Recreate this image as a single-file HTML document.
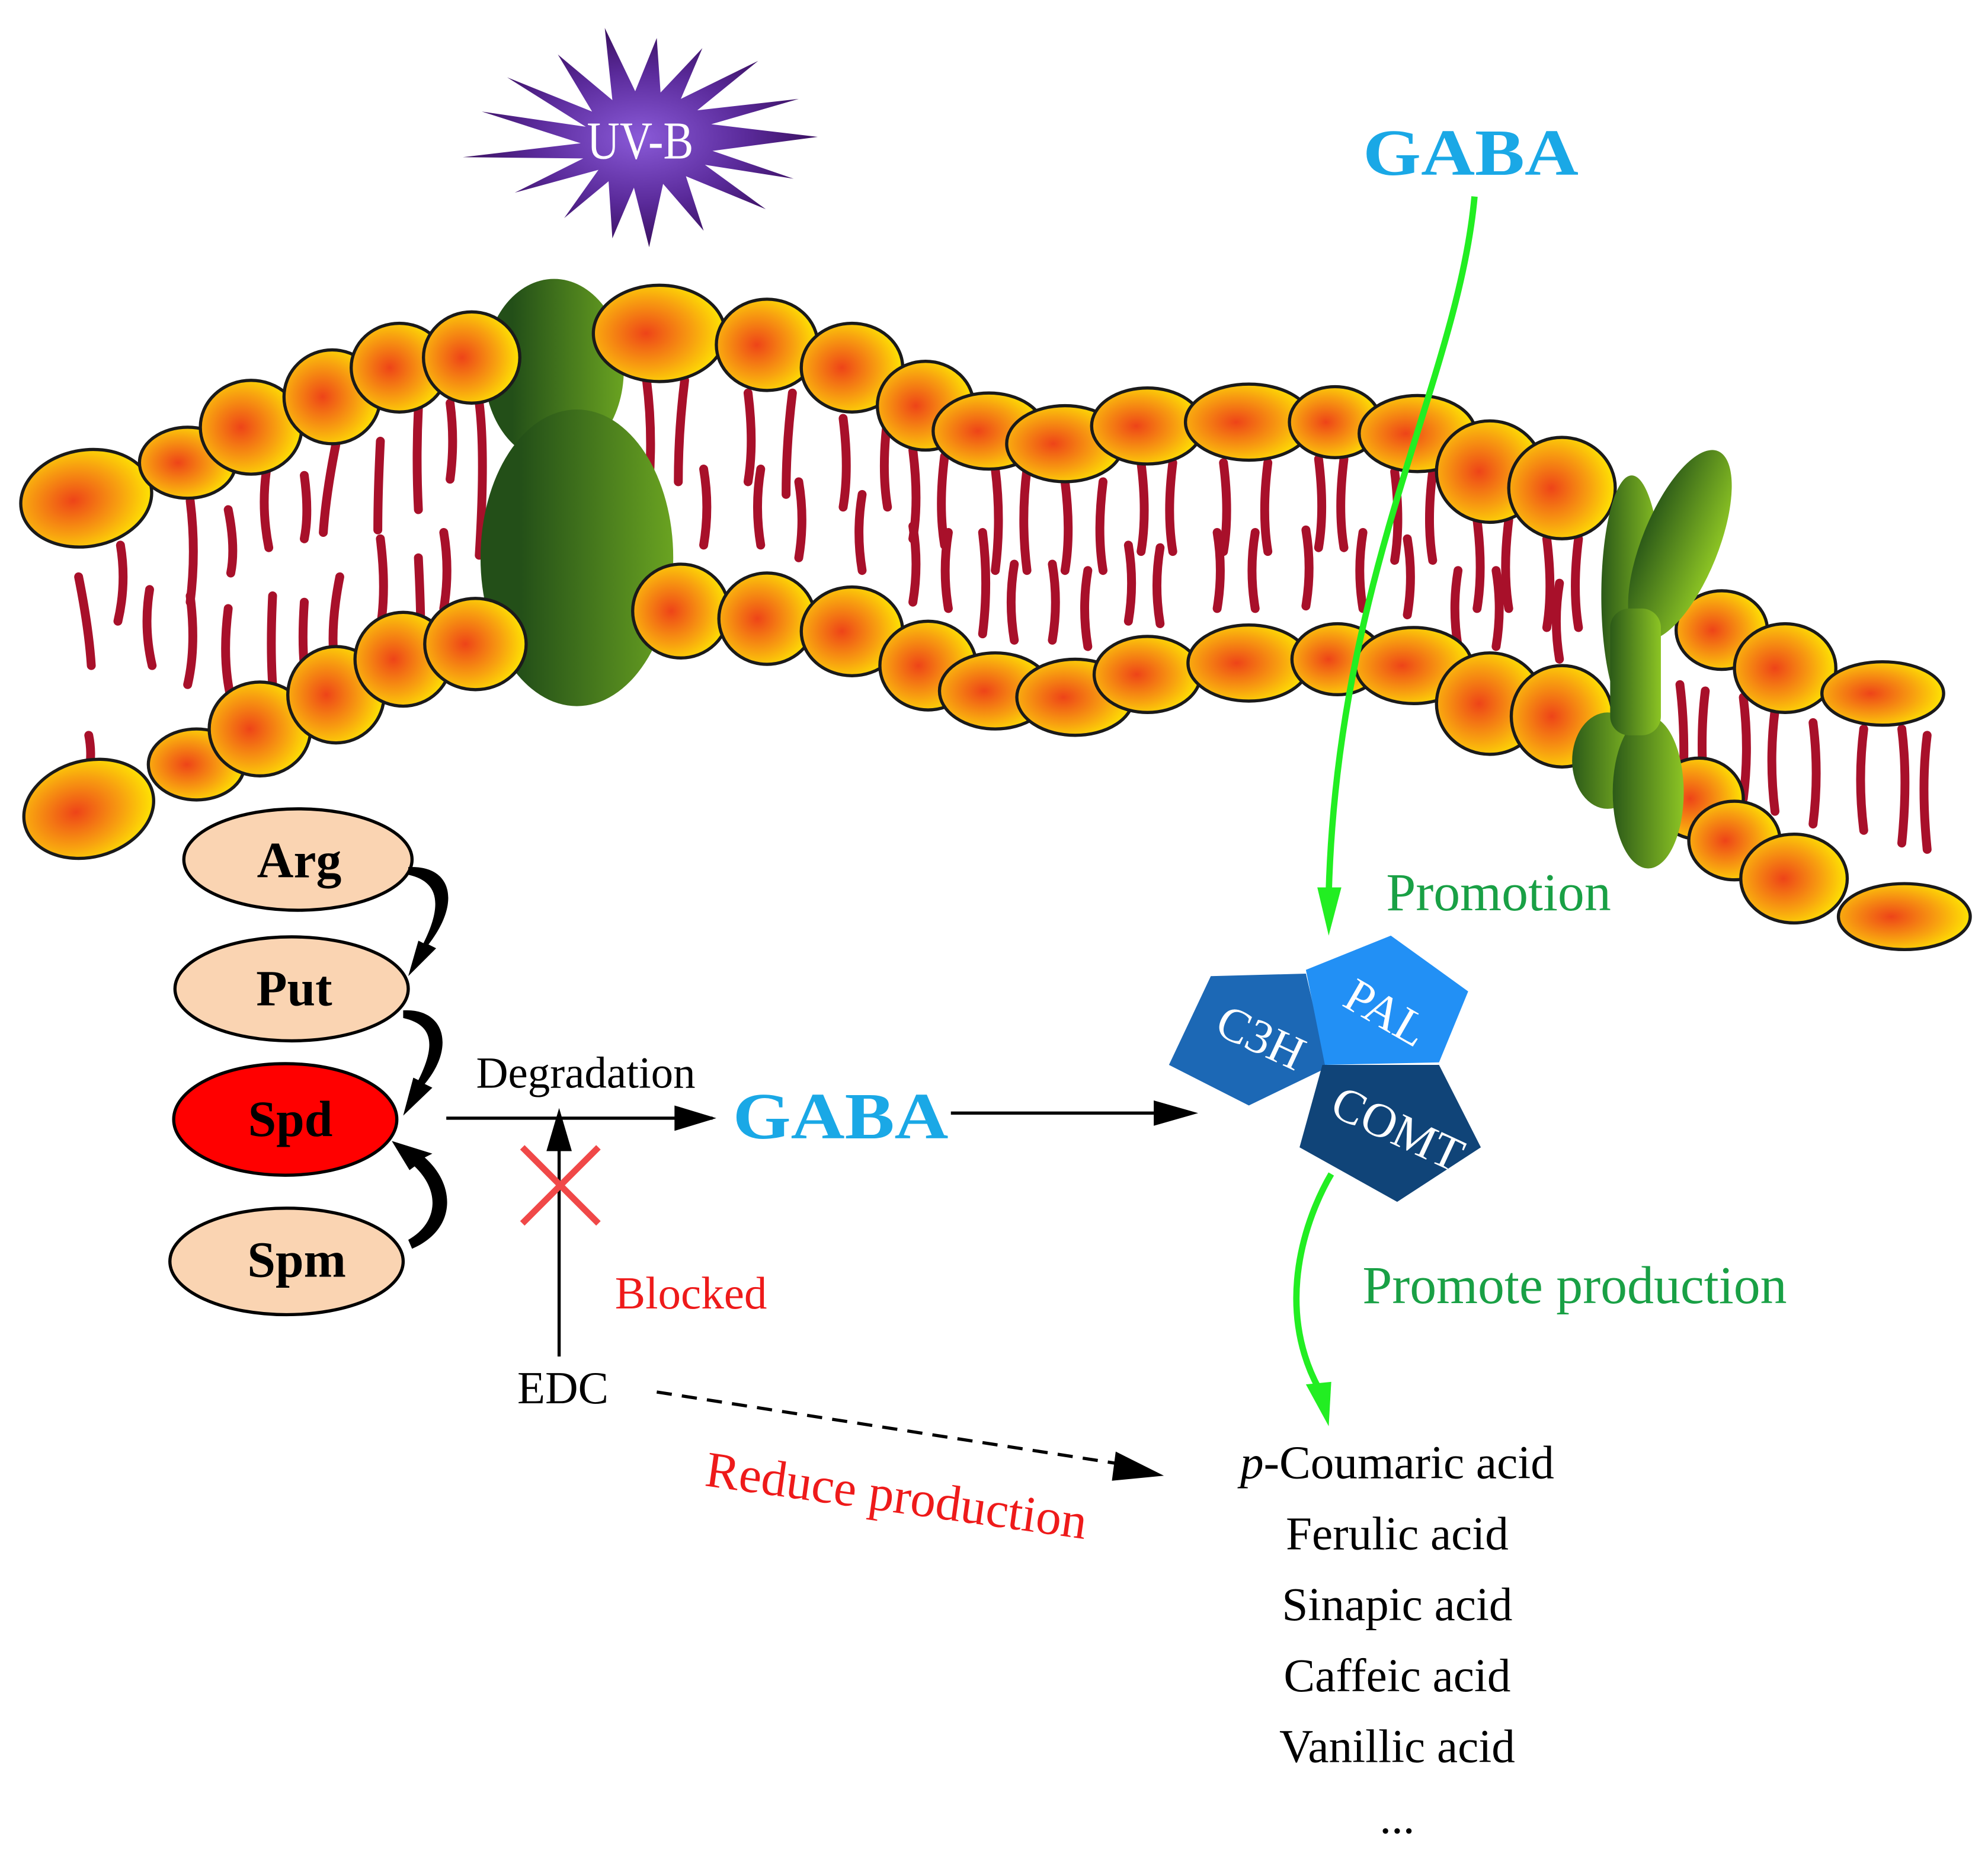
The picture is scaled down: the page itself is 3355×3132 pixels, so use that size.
<!DOCTYPE html>
<html><head><meta charset="utf-8"><style>html,body{margin:0;padding:0;background:#fff}svg{display:block}</style></head>
<body>
<svg width="3355" height="3132" viewBox="0 0 1568 1464" preserveAspectRatio="none" xmlns="http://www.w3.org/2000/svg" font-family="'Liberation Serif', serif">
<defs>
<radialGradient id="h" cx="0.4" cy="0.5" r="0.65"><stop offset="0" stop-color="#ee4418"/><stop offset="0.55" stop-color="#f8a010"/><stop offset="1" stop-color="#fff200"/></radialGradient>
<linearGradient id="g" x1="0" x2="1" y1="0" y2="0"><stop offset="0.2" stop-color="#234f18"/><stop offset="1" stop-color="#6aa321"/></linearGradient>
<linearGradient id="g2" x1="0" x2="1"><stop offset="0" stop-color="#2c5a18"/><stop offset="1" stop-color="#8cc424"/></linearGradient>
<radialGradient id="uv" cx="0.5" cy="0.5" r="0.5"><stop offset="0" stop-color="#8a5ad8"/><stop offset="0.6" stop-color="#5a2a9a"/><stop offset="1" stop-color="#3a1060"/></radialGradient>
</defs>

<g stroke="#a8102a" stroke-width="7" stroke-linecap="round" fill="none">
<path d="M95,430 q5,30 -2,60 M62,455 q8,40 10,70 M118,465 q-5,30 2,60 M150,395 q5,40 0,80 M180,402 q6,30 2,50 M210,372 q-4,30 2,60 M240,375 q4,30 0,50 M265,350 q-8,40 -10,70 M300,348 q-2,40 -2,70 M330,322 q-2,40 0,80 M355,318 q4,30 0,60 M378,318 q5,40 0,120 M150,470 q5,40 -2,70 M180,480 q-5,40 2,70 M215,470 q-2,40 0,70 M240,475 q-2,30 0,50 M268,455 q-8,40 -4,70 M300,425 q5,40 0,70 M330,440 q2,40 2,70 M350,420 q5,30 0,60 M70,580 q3,15 0,30"/>
<path d="M510,300 q5,40 2,80 M540,300 q-5,40 -5,80 M590,310 q5,40 0,70 M625,310 q-5,40 -5,80 M665,330 q5,40 0,70 M700,330 q-5,40 0,70 M720,355 q5,40 0,70 M745,360 q-5,40 0,70 M785,370 q5,40 0,80 M810,370 q-5,40 0,80 M840,380 q5,40 0,70 M870,380 q-5,40 0,70 M900,365 q5,40 0,70 M925,365 q-5,40 0,70 M965,365 q5,40 0,70 M1000,365 q-5,40 0,70 M1040,362 q5,40 0,70 M1060,362 q-5,40 0,70 M1100,372 q5,40 0,70 M1130,372 q-5,40 0,70 M1165,410 q5,40 0,70 M1190,410 q-5,40 0,70 M1220,425 q5,40 0,70 M1245,425 q-5,40 0,70"/>
<path d="M555,430 q5,-30 0,-60 M600,430 q-5,-30 0,-60 M630,440 q5,-30 0,-60 M680,450 q-5,-30 0,-60 M720,475 q5,-30 0,-60 M748,480 q-5,-30 0,-60 M775,500 q5,-40 0,-80 M800,505 q-5,-30 0,-60 M830,505 q5,-30 0,-60 M858,510 q-5,-30 0,-60 M890,490 q5,-30 0,-60 M915,492 q-5,-30 0,-60 M960,480 q5,-30 0,-60 M990,480 q-5,-30 0,-60 M1030,478 q5,-30 0,-60 M1075,480 q-5,-30 0,-60 M1110,485 q5,-30 0,-60 M1150,510 q-5,-30 0,-60 M1180,510 q5,-30 0,-60 M1230,520 q-5,-30 0,-60"/>
<path d="M1325,540 q5,40 2,90 M1345,545 q-5,40 0,90 M1375,550 q5,40 0,80 M1400,560 q-5,40 0,80 M1430,570 q5,40 0,80 M1470,575 q-5,40 0,80 M1500,575 q5,40 0,90 M1520,580 q-5,40 0,90"/>
</g>

<ellipse cx="437" cy="292" rx="55" ry="72" fill="url(#g)"/>
<ellipse cx="455" cy="440" rx="76" ry="117" fill="url(#g)"/>

<g fill="url(#h)" stroke="#1a1a1a" stroke-width="2.5">
<ellipse cx="68" cy="393" rx="52" ry="38" transform="rotate(-10 68 393)"/>
<ellipse cx="148" cy="365" rx="38" ry="28"/>
<ellipse cx="198" cy="337" rx="40" ry="37"/>
<ellipse cx="262" cy="313" rx="38" ry="37"/>
<ellipse cx="315" cy="290" rx="38" ry="35"/>
<ellipse cx="372" cy="282" rx="38" ry="36"/>
<ellipse cx="520" cy="263" rx="52" ry="38"/>
<ellipse cx="605" cy="272" rx="40" ry="36"/>
<ellipse cx="672" cy="290" rx="40" ry="35"/>
<ellipse cx="730" cy="320" rx="38" ry="35"/>
<ellipse cx="780" cy="340" rx="44" ry="30"/>
<ellipse cx="840" cy="350" rx="46" ry="30"/>
<ellipse cx="905" cy="336" rx="44" ry="30"/>
<ellipse cx="985" cy="333" rx="50" ry="30"/>
<ellipse cx="1053" cy="333" rx="36" ry="28"/>
<ellipse cx="1118" cy="342" rx="46" ry="30"/>
<ellipse cx="1175" cy="372" rx="42" ry="40"/>
<ellipse cx="1232" cy="385" rx="42" ry="40"/>
<ellipse cx="70" cy="638" rx="52" ry="38" transform="rotate(-15 70 638)"/>
<ellipse cx="155" cy="603" rx="38" ry="28"/>
<ellipse cx="205" cy="575" rx="40" ry="37"/>
<ellipse cx="265" cy="548" rx="38" ry="38"/>
<ellipse cx="318" cy="520" rx="38" ry="37"/>
<ellipse cx="375" cy="508" rx="40" ry="36"/>
<ellipse cx="537" cy="482" rx="38" ry="37"/>
<ellipse cx="605" cy="488" rx="38" ry="36"/>
<ellipse cx="672" cy="498" rx="40" ry="35"/>
<ellipse cx="732" cy="525" rx="38" ry="35"/>
<ellipse cx="785" cy="545" rx="44" ry="30"/>
<ellipse cx="848" cy="550" rx="46" ry="30"/>
<ellipse cx="905" cy="532" rx="42" ry="30"/>
<ellipse cx="985" cy="523" rx="48" ry="30"/>
<ellipse cx="1055" cy="520" rx="36" ry="28"/>
<ellipse cx="1115" cy="525" rx="46" ry="30"/>
<ellipse cx="1175" cy="555" rx="42" ry="40"/>
<ellipse cx="1232" cy="565" rx="40" ry="40"/>
<ellipse cx="1358" cy="497" rx="36" ry="31"/>
<ellipse cx="1408" cy="527" rx="40" ry="35"/>
<ellipse cx="1485" cy="547" rx="48" ry="25"/>
<ellipse cx="1340" cy="630" rx="35" ry="32"/>
<ellipse cx="1368" cy="663" rx="36" ry="31"/>
<ellipse cx="1415" cy="693" rx="42" ry="35"/>
<ellipse cx="1502" cy="723" rx="52" ry="26"/>
</g>
<g fill="url(#g2)">
<ellipse cx="1287" cy="470" rx="24" ry="95"/>
<ellipse cx="1325" cy="430" rx="30" ry="80" transform="rotate(22 1325 430)"/>
<ellipse cx="1268" cy="600" rx="28" ry="38"/>
<ellipse cx="1300" cy="625" rx="28" ry="60"/>
<rect x="1270" y="480" width="40" height="100" rx="15"/>
</g>

<polygon fill="url(#uv)" points="645,108 562,119 626,141 556,130 604,165 541,139 555,182 523,145 512,195 500,148 483,188 480,143 445,172 472,134 406,152 460,125 365,124 458,113 380,88 462,100 400,61 467,88 440,43 483,79 477,22 501,72 518,30 521,73 554,38 537,78 598,48 550,87 630,78 561,98"/>
<text x="505" y="125" font-size="42" fill="#fff" text-anchor="middle" textLength="84" lengthAdjust="spacingAndGlyphs">UV-B</text>

<text x="1160" y="138" font-size="52" font-weight="bold" fill="#1aa8e6" text-anchor="middle" textLength="170" lengthAdjust="spacingAndGlyphs">GABA</text>
<path d="M1163,155 C1150,300 1055,450 1048,705" stroke="#22ee22" stroke-width="5" fill="none"/>
<polygon points="1039,700 1058,700 1048,738" fill="#22ee22"/>
<text x="1182" y="718" font-size="42" fill="#19a045" text-anchor="middle">Promotion</text>

<polygon points="955,770 1030,768 1047,842 985,872 922,840" fill="#1c68b5"/>
<polygon points="1097,738 1158,782 1135,838 1045,840 1030,765" fill="#2290f5"/>
<polygon points="1043,840 1135,840 1168,905 1102,948 1025,905" fill="#104478"/>
<text x="990" y="830" font-size="38" fill="#fff" text-anchor="middle" transform="rotate(25 990 828)">C3H</text>
<text x="1088" y="810" font-size="38" fill="#fff" text-anchor="middle" transform="rotate(30 1088 808)">PAL</text>
<text x="1098" y="902" font-size="38" fill="#fff" text-anchor="middle" transform="rotate(25 1098 900)">COMT</text>

<path d="M1050,926 C1030,960 1005,1030 1040,1095" stroke="#22ee22" stroke-width="5" fill="none"/>
<polygon points="1030,1092 1050,1090 1048,1125" fill="#22ee22"/>
<text x="1242" y="1028" font-size="42" fill="#19a045" text-anchor="middle">Promote production</text>

<g stroke="#000" stroke-width="2.5">
<ellipse cx="235" cy="678" rx="90" ry="40" fill="#fad4b2"/>
<ellipse cx="230" cy="780" rx="92" ry="41" fill="#fad4b2"/>
<ellipse cx="225" cy="883" rx="88" ry="44" fill="#ff0000"/>
<ellipse cx="226" cy="995" rx="92" ry="42" fill="#fad4b2"/>
</g>
<g font-size="40" font-weight="bold" text-anchor="middle" fill="#000">
<text x="236" y="692">Arg</text><text x="232" y="793">Put</text><text x="229" y="896">Spd</text><text x="234" y="1007">Spm</text>
</g>
<g fill="#000">
<path d="M322,684 C355,682 365,710 338,745 L344,748 L322,770 L330,742 L334,744 C350,712 345,695 322,690 Z"/>
<path d="M318,797 C350,795 360,825 335,855 L341,858 L318,880 L326,850 L330,852 C345,822 340,808 318,803 Z"/>
<path d="M325,985 C360,970 360,935 335,913 L341,910 L309,900 L323,923 L327,920 C348,940 345,965 322,978 Z"/>
</g>

<text x="462" y="858" font-size="35" text-anchor="middle">Degradation</text>
<line x1="352" y1="882" x2="562" y2="882" stroke="#000" stroke-width="2.5"/>
<polygon points="532,872 565,882 532,892" fill="#000"/>
<text x="663" y="898" font-size="52" font-weight="bold" fill="#1aa8e6" text-anchor="middle" textLength="170" lengthAdjust="spacingAndGlyphs">GABA</text>
<line x1="750" y1="878" x2="940" y2="878" stroke="#000" stroke-width="2.5"/>
<polygon points="910,868 945,878 910,888" fill="#000"/>
<line x1="441" y1="1070" x2="441" y2="895" stroke="#000" stroke-width="2.5"/>
<polygon points="431,908 441,874 451,908" fill="#000"/>
<g stroke="#f04848" stroke-width="5"><line x1="412" y1="905" x2="472" y2="965"/><line x1="472" y1="905" x2="412" y2="965"/></g>
<text x="545" y="1032" font-size="36" fill="#ee1a1a" text-anchor="middle">Blocked</text>
<text x="444" y="1107" font-size="36" text-anchor="middle">EDC</text>
<line x1="518" y1="1098" x2="885" y2="1155" stroke="#000" stroke-width="2.5" stroke-dasharray="12,8"/>
<polygon points="880,1145 918,1164 877,1168" fill="#000"/>
<text x="707" y="1193" font-size="40" fill="#ee1a1a" text-anchor="middle" transform="rotate(8 707 1180)">Reduce production</text>

<g font-size="37" text-anchor="middle" fill="#000">
<text x="1102" y="1166"><tspan font-style="italic">p</tspan>-Coumaric acid</text>
<text x="1102" y="1222">Ferulic acid</text>
<text x="1102" y="1278">Sinapic acid</text>
<text x="1102" y="1334">Caffeic acid</text>
<text x="1102" y="1390">Vanillic acid</text>
<text x="1102" y="1446">...</text>
</g>
</svg>
</body></html>
